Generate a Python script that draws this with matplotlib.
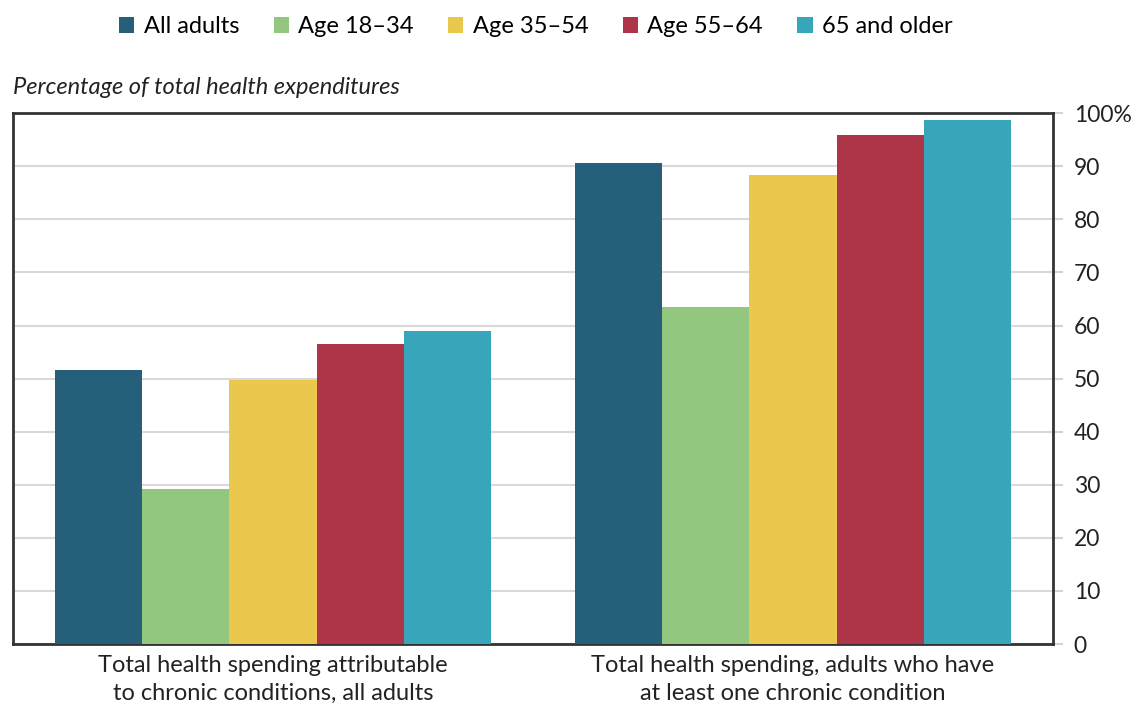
import numpy as np
import matplotlib
matplotlib.use('Agg')
import matplotlib.pyplot as plt

plt.rcParams['font.family'] = ['Lato', 'DejaVu Sans']

# Data
groups = ['Total health spending attributable\nto chronic conditions, all adults',
          'Total health spending, adults who have\nat least one chronic condition']
series = ['All adults', 'Age 18–34', 'Age 35–54', 'Age 55–64', '65 and older']
all_adults = [51.7, 90.6]
age_18_34 = [29.2, 63.4]
age_35_54 = [49.8, 88.3]
age_55_64 = [56.6, 95.8]
age_65_up = [59.0, 98.7]
colors = ['#265F7A', '#93C77F', '#E9C84D', '#AE3447', '#37A5BA']

values = [all_adults, age_18_34, age_35_54, age_55_64, age_65_up]

fig = plt.figure(figsize=(11.4, 7.07), dpi=100)
ax = fig.add_axes([0.0114, 0.089, 0.9123, 0.751])

x = np.arange(len(groups))
w = 0.1675
for i, (vals, name, c) in enumerate(zip(values, series, colors)):
    ax.bar(x + (i - 2) * w, vals, width=w, color=c, label=name, zorder=3)

ax.set_xlim(-0.5, 1.5)
ax.set_ylim(0, 100)
ax.set_yticks(range(0, 101, 10))
ax.set_yticklabels([str(v) if v < 100 else '100%' for v in range(0, 101, 10)])
ax.yaxis.tick_right()
ax.tick_params(axis='y', length=7, color='#d4d4d4', width=1.5, labelsize=16.5,
               labelcolor='#222222', pad=8)
ax.grid(axis='y', color='#d9d9d9', linewidth=1.5, zorder=0)

ax.set_xticks(x)
ax.set_xticklabels(groups, fontsize=17, color='#222222', linespacing=1.4)
ax.tick_params(axis='x', length=0, pad=8)

for s in ax.spines.values():
    s.set_color('#333333')
    s.set_linewidth(2)

fig.text(0.011, 0.876, 'Percentage of total health expenditures', fontsize=17,
         style='italic', color='#222222', va='center')

fig.legend(loc='center', bbox_to_anchor=(0.47, 0.962), ncol=5, frameon=False,
           fontsize=17, handlelength=0.65, handleheight=0.65, handletextpad=0.4,
           columnspacing=1.45)

plt.savefig('out.png', dpi=100)
